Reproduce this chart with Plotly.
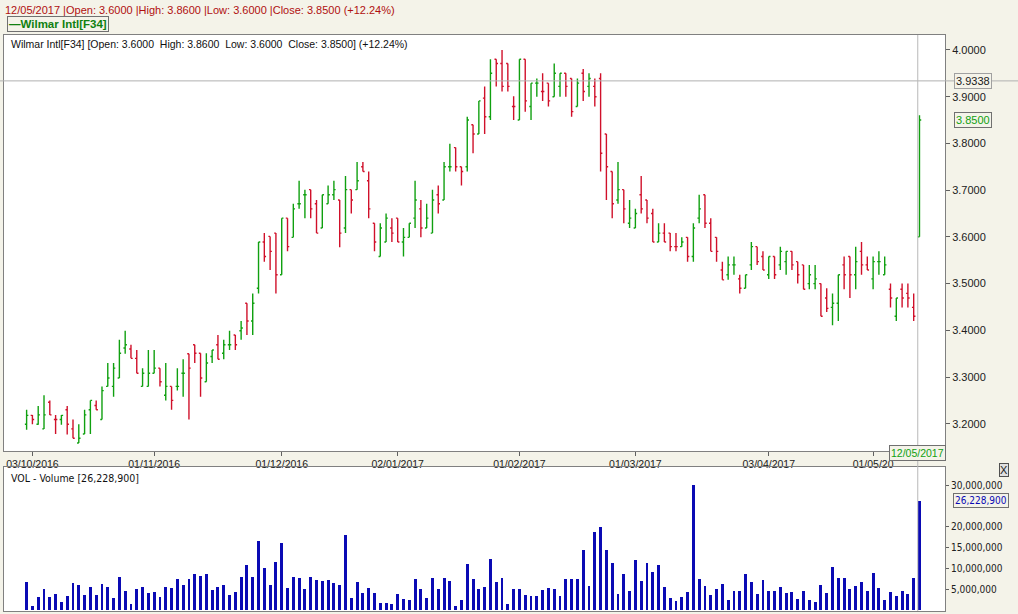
import plotly.graph_objects as go

# OHLC values, one per trading day (03/10/2016 .. 12/05/2017)
high = [3.230, 3.219, 3.238, 3.261, 3.250, 3.219, 3.219, 3.238, 3.209, 3.199,
        3.230, 3.250, 3.250, 3.280, 3.330, 3.330, 3.380, 3.399, 3.369, 3.358,
        3.319, 3.358, 3.358, 3.319, 3.330, 3.280, 3.319, 3.338, 3.350, 3.369,
        3.351, 3.351, 3.358, 3.390, 3.380, 3.399, 3.390, 3.420, 3.458, 3.479,
        3.589, 3.608, 3.601, 3.608, 3.640, 3.640, 3.671, 3.720, 3.701, 3.701,
        3.679, 3.690, 3.710, 3.720, 3.679, 3.730, 3.701, 3.760, 3.760, 3.740,
        3.629, 3.629, 3.650, 3.640, 3.640, 3.619, 3.629, 3.720, 3.679, 3.671,
        3.701, 3.710, 3.760, 3.799, 3.791, 3.750, 3.857, 3.840, 3.891, 3.922,
        3.980, 3.980, 4.000, 3.971, 3.901, 3.980, 3.980, 3.929, 3.939, 3.950,
        3.929, 3.971, 3.950, 3.950, 3.939, 3.939, 3.959, 3.950, 3.939, 3.950,
        3.820, 3.740, 3.760, 3.701, 3.679, 3.660, 3.730, 3.679, 3.660, 3.629,
        3.629, 3.608, 3.608, 3.599, 3.599, 3.629, 3.690, 3.690, 3.640, 3.599,
        3.547, 3.558, 3.558, 3.519, 3.519, 3.589, 3.579, 3.569, 3.558, 3.558,
        3.579, 3.569, 3.569, 3.547, 3.540, 3.540, 3.540, 3.500, 3.490, 3.479,
        3.519, 3.558, 3.558, 3.579, 3.589, 3.558, 3.558, 3.569, 3.558, 3.500,
        3.469, 3.500, 3.500, 3.479, 3.860]
low = [3.187, 3.199, 3.198, 3.189, 3.219, 3.178, 3.198, 3.177, 3.169, 3.159,
       3.178, 3.178, 3.230, 3.209, 3.280, 3.258, 3.298, 3.350, 3.340, 3.308,
       3.280, 3.280, 3.308, 3.280, 3.250, 3.230, 3.271, 3.258, 3.209, 3.330,
       3.258, 3.290, 3.330, 3.338, 3.338, 3.358, 3.358, 3.380, 3.390, 3.390,
       3.479, 3.547, 3.529, 3.479, 3.519, 3.569, 3.599, 3.660, 3.640, 3.640,
       3.608, 3.619, 3.671, 3.679, 3.578, 3.608, 3.650, 3.701, 3.740, 3.640,
       3.569, 3.558, 3.589, 3.589, 3.589, 3.558, 3.599, 3.619, 3.599, 3.619,
       3.608, 3.650, 3.679, 3.740, 3.740, 3.710, 3.740, 3.779, 3.820, 3.820,
       3.850, 3.922, 3.911, 3.911, 3.850, 3.850, 3.868, 3.850, 3.900, 3.891,
       3.879, 3.900, 3.900, 3.900, 3.857, 3.879, 3.891, 3.900, 3.879, 3.740,
       3.679, 3.640, 3.671, 3.629, 3.619, 3.619, 3.650, 3.629, 3.589, 3.589,
       3.589, 3.569, 3.569, 3.579, 3.547, 3.547, 3.629, 3.619, 3.569, 3.547,
       3.508, 3.508, 3.519, 3.479, 3.490, 3.529, 3.540, 3.529, 3.510, 3.510,
       3.529, 3.519, 3.529, 3.500, 3.488, 3.488, 3.488, 3.430, 3.439, 3.411,
       3.420, 3.488, 3.469, 3.488, 3.519, 3.529, 3.488, 3.519, 3.519, 3.449,
       3.420, 3.449, 3.449, 3.420, 3.600]
open_ = [3.199, 3.218, 3.199, 3.189, 3.246, 3.209, 3.209, 3.230, 3.189, 3.159,
         3.178, 3.230, 3.239, 3.209, 3.280, 3.280, 3.298, 3.362, 3.360, 3.340,
         3.280, 3.280, 3.308, 3.319, 3.261, 3.280, 3.280, 3.308, 3.350, 3.369,
         3.351, 3.290, 3.344, 3.369, 3.351, 3.369, 3.390, 3.399, 3.458, 3.420,
         3.490, 3.589, 3.601, 3.608, 3.519, 3.640, 3.599, 3.671, 3.690, 3.701,
         3.671, 3.619, 3.671, 3.690, 3.679, 3.619, 3.701, 3.701, 3.750, 3.720,
         3.629, 3.558, 3.589, 3.619, 3.640, 3.589, 3.599, 3.640, 3.660, 3.619,
         3.608, 3.690, 3.679, 3.750, 3.791, 3.750, 3.750, 3.840, 3.820, 3.897,
         3.857, 3.980, 3.971, 3.971, 3.879, 3.850, 3.980, 3.879, 3.929, 3.911,
         3.929, 3.900, 3.922, 3.950, 3.939, 3.879, 3.950, 3.922, 3.922, 3.939,
         3.820, 3.740, 3.679, 3.701, 3.629, 3.619, 3.690, 3.679, 3.650, 3.589,
         3.608, 3.608, 3.579, 3.579, 3.599, 3.558, 3.640, 3.690, 3.629, 3.599,
         3.529, 3.519, 3.540, 3.510, 3.490, 3.540, 3.579, 3.558, 3.519, 3.558,
         3.540, 3.547, 3.569, 3.547, 3.540, 3.500, 3.500, 3.500, 3.469, 3.449,
         3.458, 3.540, 3.558, 3.519, 3.569, 3.540, 3.510, 3.547, 3.519, 3.488,
         3.430, 3.488, 3.479, 3.449, 3.600]
close = [3.218, 3.209, 3.219, 3.219, 3.219, 3.209, 3.218, 3.199, 3.169, 3.169,
         3.219, 3.250, 3.230, 3.271, 3.298, 3.319, 3.351, 3.369, 3.340, 3.308,
         3.308, 3.308, 3.319, 3.290, 3.280, 3.250, 3.280, 3.308, 3.319, 3.351,
         3.298, 3.330, 3.358, 3.338, 3.369, 3.369, 3.369, 3.405, 3.420, 3.458,
         3.589, 3.558, 3.569, 3.519, 3.640, 3.579, 3.660, 3.671, 3.690, 3.660,
         3.608, 3.690, 3.690, 3.701, 3.608, 3.701, 3.679, 3.720, 3.740, 3.660,
         3.589, 3.619, 3.640, 3.608, 3.589, 3.599, 3.629, 3.679, 3.619, 3.640,
         3.679, 3.671, 3.750, 3.750, 3.750, 3.740, 3.850, 3.820, 3.891, 3.857,
         3.950, 3.971, 3.922, 3.922, 3.879, 3.980, 3.891, 3.929, 3.929, 3.911,
         3.891, 3.950, 3.950, 3.922, 3.868, 3.929, 3.911, 3.939, 3.900, 3.779,
         3.750, 3.671, 3.701, 3.660, 3.640, 3.650, 3.660, 3.640, 3.589, 3.608,
         3.589, 3.579, 3.579, 3.589, 3.558, 3.619, 3.660, 3.629, 3.569, 3.569,
         3.508, 3.540, 3.540, 3.490, 3.519, 3.579, 3.547, 3.529, 3.558, 3.519,
         3.569, 3.569, 3.540, 3.519, 3.488, 3.519, 3.510, 3.430, 3.447, 3.458,
         3.519, 3.519, 3.519, 3.547, 3.540, 3.529, 3.547, 3.547, 3.540, 3.469,
         3.469, 3.469, 3.469, 3.430, 3.850]

# volume in millions
volume = [6.8, 0.9, 3.1, 4.9, 3.1, 3.7, 1.9, 3.2, 6.4, 5.9,
          3.5, 5.5, 3.5, 6.1, 5.6, 2.8, 7.9, 4.5, 1.3, 4.9,
          5.5, 4.0, 4.3, 3.1, 5.6, 5.2, 7.3, 6.0, 7.3, 8.5,
          8.1, 8.7, 4.7, 5.6, 5.9, 3.5, 4.3, 7.9,
          10.8, 7.9, 16.5, 10.0, 5.9, 11.4, 16.2,
          5.2, 8.0, 7.6, 4.9, 7.9, 7.1, 6.9, 7.2, 6.5, 6.0,
          18.0,
          2.8, 6.6, 4.0, 5.3, 4.0, 1.6, 1.7, 1.5, 3.7, 2.6,
          2.3, 7.5, 5.0, 2.8, 7.6, 4.9, 7.7, 7.0, 1.0, 2.4,
          11.1, 7.5, 5.0, 5.5, 12.2, 6.8, 7.7, 1.3, 4.9, 4.9,
          3.6, 3.2, 3.4, 4.7, 5.3, 4.9, 3.4, 7.3, 7.5, 7.3,
          14.5, 5.8, 18.7, 19.9, 14.3, 11.2, 3.8, 8.7, 4.6, 12.1,
          6.9, 11.3, 9.1, 10.8, 5.6, 2.8, 2.0, 3.0, 4.4,
          30.0,
          7.5, 5.8, 3.5, 4.9, 6.3, 2.4, 4.6, 4.6, 8.6, 6.8,
          3.9, 7.1, 4.5, 4.5, 5.6, 4.0, 4.2, 2.6, 4.6, 2.3,
          1.9, 5.9, 4.0, 10.2, 7.6, 7.7, 5.0, 5.8, 6.6, 4.5,
          8.8, 5.3, 2.3, 4.4, 3.3, 4.5, 3.9, 7.6,
          26.2289]

date_ticks = [1, 22, 44, 64, 85, 105, 128, 146]
date_labels = ["03/10/2016", "01/11/2016", "01/12/2016", "02/01/2017",
               "01/02/2017", "01/03/2017", "03/04/2017", "01/05/20"]
price_ticks = [3.2, 3.3, 3.4, 3.5, 3.6, 3.7, 3.8, 3.9, 4.0]
vol_ticks = [5, 10, 15, 20, 30]

idx = list(range(len(close)))
vol_idx = list(range(len(volume)))
last = len(close) - 1

GREEN = "#10a010"
RED = "#d0102a"
BG = "#f4f3e9"
FONT = "Liberation Sans, Arial"
NARROW = "Liberation Sans Narrow, DejaVu Sans Condensed, Arial"

fig = go.Figure()
fig.add_trace(go.Ohlc(x=idx, open=open_, high=high, low=low, close=close,
                      increasing_line_color=GREEN, decreasing_line_color=RED,
                      line_width=1.4, tickwidth=0.3, xaxis="x", yaxis="y",
                      showlegend=False, hoverinfo="skip"))
fig.add_trace(go.Bar(x=vol_idx, y=volume, marker_color="#0a0ab4", marker_line_width=0,
                     width=0.5, xaxis="x2", yaxis="y2", showlegend=False))

xr = [-3.9, 158.4]
fig.update_layout(
    width=1018, height=614,
    margin=dict(l=4, r=73, t=35, b=3),
    paper_bgcolor=BG, plot_bgcolor="white",
    font=dict(family=FONT, size=11, color="#202020"),
    bargap=0,
    xaxis=dict(domain=[0, 1], range=xr, anchor="y", tickvals=date_ticks, ticktext=date_labels,
               ticks="outside", ticklen=4, tickcolor="#606060", showgrid=False, zeroline=False,
               showline=True, mirror=True, linecolor="#808080", tickfont=dict(size=10.5),
               rangeslider=dict(visible=False)),
    yaxis=dict(domain=[0.278, 1], range=[3.142, 4.032], side="right", tickvals=price_ticks,
               tickformat=".4f", ticks="outside", ticklen=4, tickcolor="#606060",
               showgrid=False, zeroline=False, showline=True, mirror=True, linecolor="#808080"),
    xaxis2=dict(domain=[0, 1], range=xr, anchor="y2", showticklabels=False, showgrid=False,
                zeroline=False, showline=True, mirror=True, linecolor="#808080", ticks=""),
    yaxis2=dict(domain=[0, 0.25], range=[-0.3, 34.4], side="right", tickvals=vol_ticks,
                ticktext=[f"{v * 1000000:,}" for v in vol_ticks], ticks="outside", ticklen=3,
                tickcolor="#606060", showgrid=False, zeroline=False, showline=True, mirror=True,
                linecolor="#808080", tickfont=dict(family=NARROW, size=10)),
)

# crosshair lines
fig.add_shape(type="line", xref="paper", yref="y", x0=-0.005, x1=1.078, y0=3.9338, y1=3.9338,
              line=dict(color="#b0b0b0", width=1))
fig.add_shape(type="line", xref="x", yref="paper", x0=last - 0.3, x1=last - 0.3, y0=0, y1=1,
              line=dict(color="#b8b8b8", width=1))

ann = [
    dict(text="12/05/2017 |Open: 3.6000 |High: 3.8600 |Low: 3.6000 |Close: 3.8500 (+12.24%)",
         x=-0.001, y=604, font=dict(color="#b01010", size=11)),
    dict(text="<b>—Wilmar Intl[F34]</b>", x=0.003, y=590, font=dict(color="#108010", size=11.5),
         bordercolor="#707070", borderwidth=1, borderpad=1),
    dict(text="Wilmar Intl[F34] [Open: 3.6000  High: 3.8600  Low: 3.6000  Close: 3.8500] (+12.24%)",
         x=0.005, y=570, font=dict(color="#101010", size=10.5)),
    dict(text="VOL - Volume [26,228,900]", x=0.005, y=136,
         font=dict(color="#101010", size=10.5, family=NARROW)),
]
for a in ann:
    fig.add_annotation(xref="paper", yref="paper", xanchor="left", yanchor="middle",
                       showarrow=False, **{k: v for k, v in a.items() if k != "y"},
                       y=(a["y"] - 3) / 576)

# value boxes on the axes
fig.add_annotation(xref="paper", yref="y", x=1.01, y=3.9338, xanchor="left", showarrow=False,
                   text="3.9338", bgcolor=BG, bordercolor="#a0a0a0", borderwidth=1, borderpad=1)
fig.add_annotation(xref="paper", yref="y", x=1.01, y=close[-1], xanchor="left", showarrow=False,
                   text=f"{close[-1]:.4f}", font=dict(color=GREEN), bgcolor=BG,
                   bordercolor="#707070", borderwidth=1, borderpad=1)
fig.add_annotation(xref="paper", yref="y2", x=1.008, y=volume[-1], xanchor="left", showarrow=False,
                   text="26,228,900", font=dict(color="#0a0ab4", family=NARROW, size=10),
                   bgcolor=BG, bordercolor="#707070", borderwidth=1, borderpad=1)
fig.add_annotation(xref="x", yref="paper", x=last - 0.3, y=(614 - 3 - 461) / 576, showarrow=False,
                   text="12/05/2017", font=dict(color=GREEN, size=10.5), bgcolor=BG,
                   bordercolor="#707070", borderwidth=1, borderpad=1)
fig.add_annotation(xref="paper", yref="paper", x=1.068, y=(614 - 3 - 477) / 576, showarrow=False,
                   text="X", font=dict(size=11), bgcolor="#e0e0e0",
                   bordercolor="#505050", borderwidth=1, borderpad=0)

fig.write_html("out.html", config={"displayModeBar": False},
               post_script="document.body.style.margin='0';")
